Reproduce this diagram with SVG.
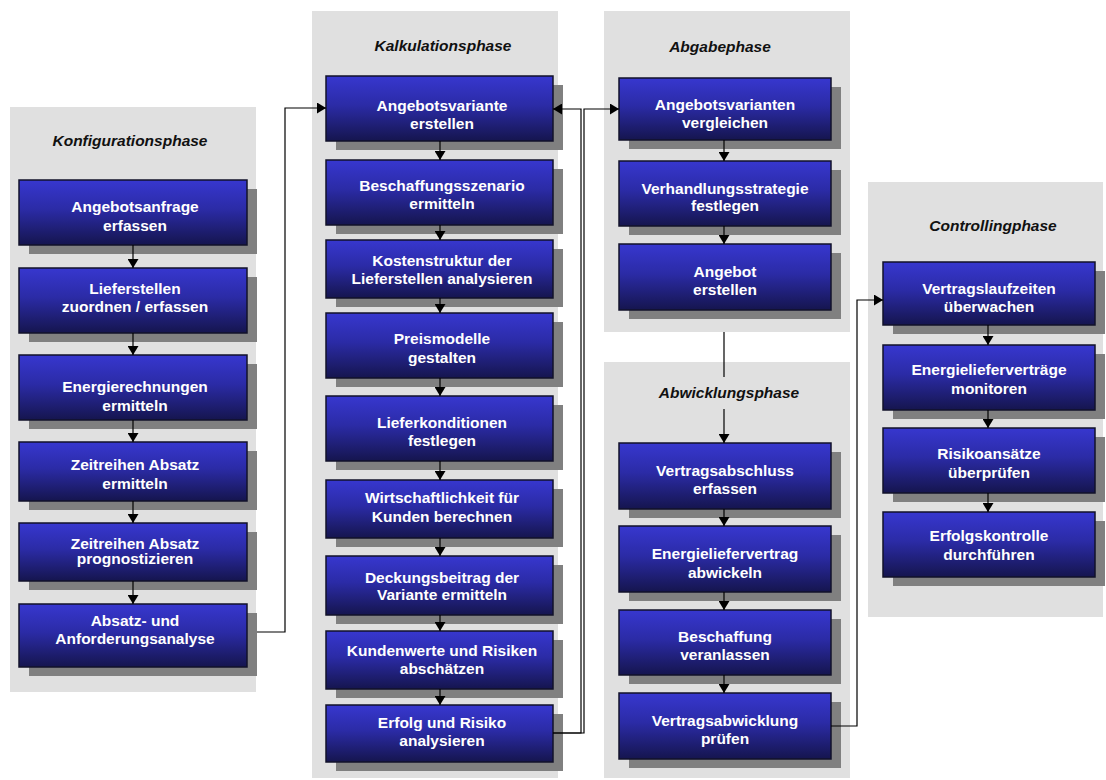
<svg xmlns="http://www.w3.org/2000/svg" width="1106" height="780" viewBox="0 0 1106 780">
<defs>
<linearGradient id="g" x1="0" y1="0" x2="0" y2="1">
<stop offset="0" stop-color="#3737CF"/>
<stop offset="0.45" stop-color="#2B2BA6"/>
<stop offset="1" stop-color="#15154E"/>
</linearGradient>
<marker id="ah" markerUnits="userSpaceOnUse" markerWidth="10" markerHeight="11" refX="9" refY="5.5" orient="auto">
<path d="M0,0 L9,5.5 L0,11 z" fill="#000"/>
</marker>
<style>
.panel{fill:#E0E0E0}
.sh{fill:#808080}
.box{fill:url(#g);stroke:#12122A;stroke-width:1.5}
.t{font-family:"Liberation Sans",Arial,sans-serif;font-weight:bold;font-size:15.5px;fill:#fff;text-anchor:middle}
.h{font-family:"Liberation Sans",Arial,sans-serif;font-weight:bold;font-style:italic;font-size:15.5px;fill:#111;text-anchor:middle}
.c{fill:none;stroke:#000;stroke-width:1.2}
</style>
</defs>

<g id="panels">
<rect class="panel" x="10" y="107" width="246" height="585"/>
<rect class="panel" x="312" y="11" width="246" height="767"/>
<rect class="panel" x="604" y="11" width="246" height="321"/>
<rect class="panel" x="604" y="362" width="246" height="416"/>
<rect class="panel" x="868" y="182" width="235" height="435"/>
<text class="h" x="130" y="146">Konfigurationsphase</text>
<text class="h" x="443" y="51">Kalkulationsphase</text>
<text class="h" x="720" y="52">Abgabephase</text>
<text class="h" x="729" y="398">Abwicklungsphase</text>
<text class="h" x="993" y="231">Controllingphase</text>
</g>

<!-- Konfigurationsphase -->
<g id="k1"><rect class="sh" x="29" y="189" width="228" height="65"/><rect class="box" x="19" y="180" width="228" height="65"/><text class="t" x="135" y="212">Angebotsanfrage</text><text class="t" x="135" y="231">erfassen</text></g>
<g id="k2"><rect class="sh" x="29" y="277" width="228" height="65"/><rect class="box" x="19" y="268" width="228" height="65"/><text class="t" x="135" y="294">Lieferstellen</text><text class="t" x="135" y="312">zuordnen / erfassen</text></g>
<g id="k3"><rect class="sh" x="29" y="364" width="228" height="65"/><rect class="box" x="19" y="355" width="228" height="65"/><text class="t" x="135" y="392">Energierechnungen</text><text class="t" x="135" y="411">ermitteln</text></g>
<g id="k4"><rect class="sh" x="29" y="451" width="228" height="59"/><rect class="box" x="19" y="442" width="228" height="59"/><text class="t" x="135" y="470">Zeitreihen Absatz</text><text class="t" x="135" y="489">ermitteln</text></g>
<g id="k5"><rect class="sh" x="29" y="532" width="228" height="58"/><rect class="box" x="19" y="523" width="228" height="58"/><text class="t" x="135" y="549">Zeitreihen Absatz</text><text class="t" x="135" y="564">prognostizieren</text></g>
<g id="k6"><rect class="sh" x="29" y="613" width="228" height="63"/><rect class="box" x="19" y="604" width="228" height="63"/><text class="t" x="135" y="626">Absatz- und</text><text class="t" x="135" y="644">Anforderungsanalyse</text></g>

<!-- Kalkulationsphase -->
<g id="c1"><rect class="sh" x="336" y="85" width="227" height="65"/><rect class="box" x="326" y="76" width="227" height="65"/><text class="t" x="442" y="111">Angebotsvariante</text><text class="t" x="442" y="129">erstellen</text></g>
<g id="c2"><rect class="sh" x="336" y="169" width="227" height="65"/><rect class="box" x="326" y="160" width="227" height="65"/><text class="t" x="442" y="191">Beschaffungsszenario</text><text class="t" x="442" y="209">ermitteln</text></g>
<g id="c3"><rect class="sh" x="336" y="249" width="227" height="58"/><rect class="box" x="326" y="240" width="227" height="58"/><text class="t" x="442" y="266">Kostenstruktur der</text><text class="t" x="442" y="284">Lieferstellen analysieren</text></g>
<g id="c4"><rect class="sh" x="336" y="322" width="227" height="65"/><rect class="box" x="326" y="313" width="227" height="65"/><text class="t" x="442" y="344">Preismodelle</text><text class="t" x="442" y="363">gestalten</text></g>
<g id="c5"><rect class="sh" x="336" y="405" width="227" height="65"/><rect class="box" x="326" y="396" width="227" height="65"/><text class="t" x="442" y="428">Lieferkonditionen</text><text class="t" x="442" y="446">festlegen</text></g>
<g id="c6"><rect class="sh" x="336" y="489" width="227" height="58"/><rect class="box" x="326" y="480" width="227" height="58"/><text class="t" x="442" y="503">Wirtschaftlichkeit für</text><text class="t" x="442" y="522">Kunden berechnen</text></g>
<g id="c7"><rect class="sh" x="336" y="565" width="227" height="59"/><rect class="box" x="326" y="556" width="227" height="59"/><text class="t" x="442" y="583">Deckungsbeitrag der</text><text class="t" x="442" y="600">Variante ermitteln</text></g>
<g id="c8"><rect class="sh" x="336" y="640" width="227" height="58"/><rect class="box" x="326" y="631" width="227" height="58"/><text class="t" x="442" y="656">Kundenwerte und Risiken</text><text class="t" x="442" y="674">abschätzen</text></g>
<g id="c9"><rect class="sh" x="336" y="714" width="227" height="57"/><rect class="box" x="326" y="705" width="227" height="57"/><text class="t" x="442" y="728">Erfolg und Risiko</text><text class="t" x="442" y="746">analysieren</text></g>

<!-- Abgabephase -->
<g id="a1"><rect class="sh" x="629" y="87" width="212" height="62"/><rect class="box" x="619" y="78" width="212" height="62"/><text class="t" x="725" y="110">Angebotsvarianten</text><text class="t" x="725" y="128">vergleichen</text></g>
<g id="a2"><rect class="sh" x="629" y="170" width="212" height="65"/><rect class="box" x="619" y="161" width="212" height="65"/><text class="t" x="725" y="194">Verhandlungsstrategie</text><text class="t" x="725" y="211">festlegen</text></g>
<g id="a3"><rect class="sh" x="629" y="253" width="212" height="66"/><rect class="box" x="619" y="244" width="212" height="66"/><text class="t" x="725" y="277">Angebot</text><text class="t" x="725" y="295">erstellen</text></g>

<!-- Abwicklungsphase -->
<g id="w1"><rect class="sh" x="629" y="452" width="212" height="66"/><rect class="box" x="619" y="443" width="212" height="66"/><text class="t" x="725" y="476">Vertragsabschluss</text><text class="t" x="725" y="494">erfassen</text></g>
<g id="w2"><rect class="sh" x="629" y="535" width="212" height="66"/><rect class="box" x="619" y="526" width="212" height="66"/><text class="t" x="725" y="559">Energieliefervertrag</text><text class="t" x="725" y="578">abwickeln</text></g>
<g id="w3"><rect class="sh" x="629" y="619" width="212" height="65"/><rect class="box" x="619" y="610" width="212" height="65"/><text class="t" x="725" y="642">Beschaffung</text><text class="t" x="725" y="660">veranlassen</text></g>
<g id="w4"><rect class="sh" x="629" y="702" width="212" height="66"/><rect class="box" x="619" y="693" width="212" height="66"/><text class="t" x="725" y="726">Vertragsabwicklung</text><text class="t" x="725" y="744">prüfen</text></g>

<!-- Controllingphase -->
<g id="r1"><rect class="sh" x="893" y="271" width="212" height="63"/><rect class="box" x="883" y="262" width="212" height="63"/><text class="t" x="989" y="294">Vertragslaufzeiten</text><text class="t" x="989" y="312">überwachen</text></g>
<g id="r2"><rect class="sh" x="893" y="354" width="212" height="65"/><rect class="box" x="883" y="345" width="212" height="65"/><text class="t" x="989" y="375">Energielieferverträge</text><text class="t" x="989" y="394">monitoren</text></g>
<g id="r3"><rect class="sh" x="893" y="437" width="212" height="65"/><rect class="box" x="883" y="428" width="212" height="65"/><text class="t" x="989" y="459">Risikoansätze</text><text class="t" x="989" y="478">überprüfen</text></g>
<g id="r4"><rect class="sh" x="893" y="521" width="212" height="65"/><rect class="box" x="883" y="512" width="212" height="65"/><text class="t" x="989" y="541">Erfolgskontrolle</text><text class="t" x="989" y="560">durchführen</text></g>

<g id="connectors">
<path class="c" marker-end="url(#ah)" d="M133,245 V268"/>
<path class="c" marker-end="url(#ah)" d="M133,333 V355"/>
<path class="c" marker-end="url(#ah)" d="M133,420 V442"/>
<path class="c" marker-end="url(#ah)" d="M133,501 V523"/>
<path class="c" marker-end="url(#ah)" d="M133,581 V604"/>
<path class="c" marker-end="url(#ah)" d="M257,632 H285 V108 H326"/>

<path class="c" marker-end="url(#ah)" d="M440,141 V160"/>
<path class="c" marker-end="url(#ah)" d="M440,225 V240"/>
<path class="c" marker-end="url(#ah)" d="M440,298 V313"/>
<path class="c" marker-end="url(#ah)" d="M440,378 V396"/>
<path class="c" marker-end="url(#ah)" d="M440,461 V480"/>
<path class="c" marker-end="url(#ah)" d="M440,538 V556"/>
<path class="c" marker-end="url(#ah)" d="M440,615 V631"/>
<path class="c" marker-end="url(#ah)" d="M440,689 V705"/>
<path class="c" marker-end="url(#ah)" d="M553,733 H581 V109 H553"/>
<path class="c" marker-end="url(#ah)" d="M553,733 H584 V109 H619"/>

<path class="c" marker-end="url(#ah)" d="M724,140 V161"/>
<path class="c" marker-end="url(#ah)" d="M724,226 V244"/>
<path class="c" d="M724,332 V377"/>
<path class="c" marker-end="url(#ah)" d="M724,409 V443"/>
<path class="c" marker-end="url(#ah)" d="M724,509 V526"/>
<path class="c" marker-end="url(#ah)" d="M724,592 V610"/>
<path class="c" marker-end="url(#ah)" d="M724,675 V693"/>
<path class="c" marker-end="url(#ah)" d="M831,726 H857 V300 H883"/>

<path class="c" marker-end="url(#ah)" d="M988,325 V345"/>
<path class="c" marker-end="url(#ah)" d="M988,410 V428"/>
<path class="c" marker-end="url(#ah)" d="M988,493 V512"/>
</g>
</svg>
